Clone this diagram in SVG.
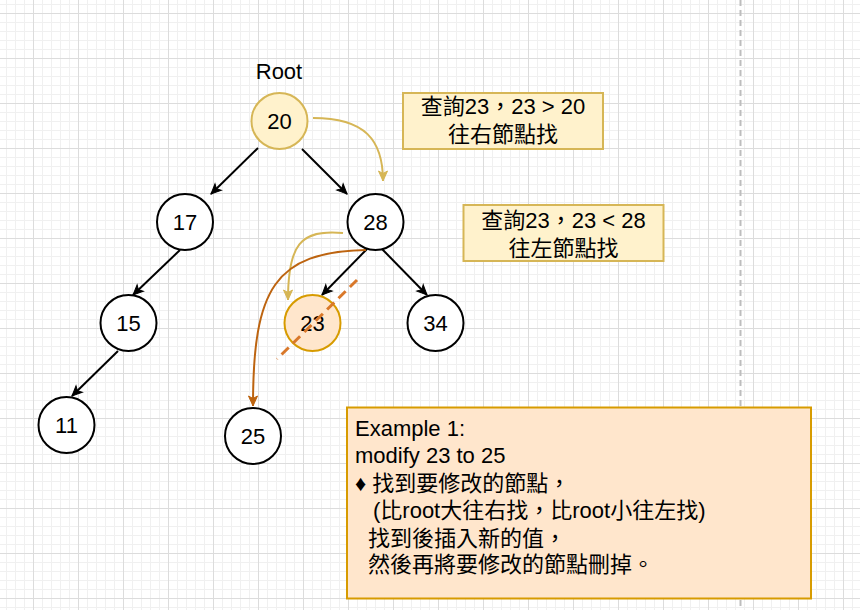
<svg xmlns="http://www.w3.org/2000/svg" width="860" height="610" viewBox="0 0 860 610">
<style>
text{font-family:"Liberation Sans","Noto Sans CJK TC",sans-serif;font-size:22px;fill:#000}
.c{text-anchor:middle}
.node{fill:#fff;stroke:#000;stroke-width:2}
.edge{fill:none;stroke:#000;stroke-width:2}
</style>
<defs>
<pattern id="grid" patternUnits="userSpaceOnUse" x="33" y="13" width="45" height="45">
<rect width="45" height="45" fill="#fff"/>
<g fill="#f0f0f0">
<rect x="9" width="1" height="45"/><rect x="18" width="1" height="45"/><rect x="27" width="1" height="45"/><rect x="36" width="1" height="45"/>
<rect y="9" width="45" height="1"/><rect y="18" width="45" height="1"/><rect y="27" width="45" height="1"/><rect y="36" width="45" height="1"/>
</g>
<g fill="#dcdcdc"><rect width="1" height="45"/><rect width="45" height="1"/></g>
</pattern>
<marker id="ab" viewBox="-12 -6 13 12" refX="0" refY="0" markerWidth="13" markerHeight="12" markerUnits="userSpaceOnUse" orient="auto">
<path d="M-10,-4.5 L0,0 L-10,4.5 L-7.5,0 Z" fill="#000" stroke="#000" stroke-width="1"/>
</marker>
<marker id="ay" viewBox="-12 -6 13 12" refX="0" refY="0" markerWidth="13" markerHeight="12" markerUnits="userSpaceOnUse" orient="auto">
<path d="M-10,-4.5 L0,0 L-10,4.5 L-7.5,0 Z" fill="#d6b656" stroke="#d6b656" stroke-width="1"/>
</marker>
<marker id="ao" viewBox="-12 -6 13 12" refX="0" refY="0" markerWidth="13" markerHeight="12" markerUnits="userSpaceOnUse" orient="auto">
<path d="M-10,-4.5 L0,0 L-10,4.5 L-7.5,0 Z" fill="#bd6410" stroke="#bd6410" stroke-width="1"/>
</marker>
</defs>
<rect width="860" height="610" fill="url(#grid)"/>
<line x1="740.5" y1="0" x2="740.5" y2="610" stroke="#bdbdbd" stroke-width="2" stroke-dasharray="6 4"/>

<g id="connectors">
<path class="edge" d="M258,148 L211,194" marker-end="url(#ab)"/>
<path class="edge" d="M302,149 L347,194" marker-end="url(#ab)"/>
<path class="edge" d="M180,250 L133,295" marker-end="url(#ab)"/>
<path class="edge" d="M118,351 L72,396" marker-end="url(#ab)"/>
<path class="edge" d="M367,249 L322,295" marker-end="url(#ab)"/>
<path class="edge" d="M382,249 L427,295" marker-end="url(#ab)"/>
<path d="M313,118 C365,118 383,140 383,181" fill="none" stroke="#d6b656" stroke-width="2" marker-end="url(#ay)"/>
<path d="M343,233 C300,229 288,245 288,300" fill="none" stroke="#d6b656" stroke-width="2" marker-end="url(#ay)"/>
<path d="M366,250 C275,252 253,288 253,406" fill="none" stroke="#bd6410" stroke-width="2" marker-end="url(#ao)"/>
</g>

<g id="root-label"><text class="c" x="279" y="79">Root</text></g>

<g id="n20"><circle cx="279.5" cy="121" r="28" fill="#fff2cc" stroke="#d6b656" stroke-width="2"/><text class="c" x="279.5" y="129">20</text></g>
<g id="n17"><circle class="node" cx="185" cy="222" r="28"/><text class="c" x="185" y="230">17</text></g>
<g id="n28"><circle class="node" cx="375.5" cy="222" r="28"/><text class="c" x="375.5" y="230">28</text></g>
<g id="n15"><circle class="node" cx="128.5" cy="323" r="28"/><text class="c" x="128.5" y="331">15</text></g>
<g id="n23"><circle cx="312.5" cy="323" r="28" fill="#ffe6cc" stroke="#d79b00" stroke-width="2"/><text class="c" x="312.5" y="331">23</text></g>
<g id="n34"><circle class="node" cx="435.5" cy="323" r="28"/><text class="c" x="435.5" y="331">34</text></g>
<g id="n11"><circle class="node" cx="66.5" cy="425" r="28"/><text class="c" x="66.5" y="433">11</text></g>
<g id="n25"><circle class="node" cx="253" cy="436" r="28"/><text class="c" x="253" y="444">25</text></g>

<g id="delete-mark"><line x1="357" y1="280" x2="277" y2="359" stroke="#d9782a" stroke-width="3" stroke-dasharray="10 6"/></g>

<g id="note1">
<rect x="403" y="93" width="200" height="56" fill="#fff2cc" stroke="#d6b656" stroke-width="2"/>
<text class="c" x="503" y="114">查詢23，23 &gt; 20</text>
<text class="c" x="503" y="142">往右節點找</text>
</g>
<g id="note2">
<rect x="463.5" y="205" width="200" height="56" fill="#fff2cc" stroke="#d6b656" stroke-width="2"/>
<text class="c" x="563.5" y="228">查詢23，23 &lt; 28</text>
<text class="c" x="563.5" y="256">往左節點找</text>
</g>
<g id="example">
<rect x="347" y="407.5" width="464" height="191" fill="#ffe6cc" stroke="#d79b00" stroke-width="2"/>
<text x="355" y="436">Example 1:</text>
<text x="355" y="463">modify 23 to 25</text>
<text x="355" y="491">♦ 找到要修改的節點，</text>
<text x="373" y="518">(比root大往右找，比root小往左找)</text>
<text x="368" y="546">找到後插入新的值，</text>
<text x="368" y="572">然後再將要修改的節點刪掉。</text>
</g>
</svg>
